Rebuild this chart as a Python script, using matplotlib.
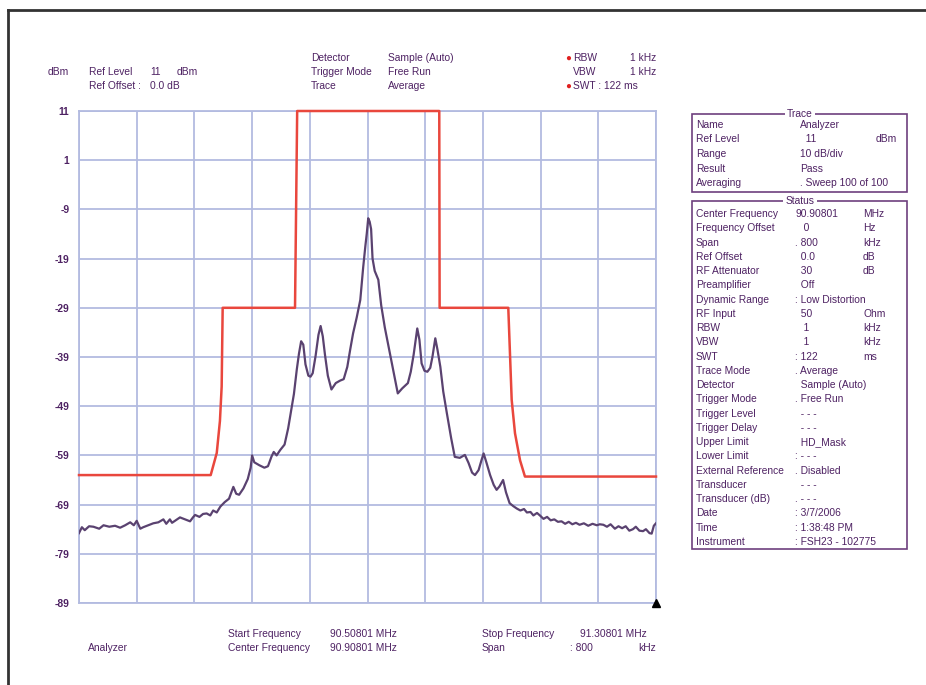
import matplotlib
matplotlib.use("Agg")
from matplotlib import pyplot as plt
from matplotlib.lines import Line2D
from matplotlib.patches import Rectangle

plt.rcParams['font.family'] = ['Liberation Sans', 'DejaVu Sans']

# ---- data (offset from centre frequency, kHz / dBm) ----
trace_khz = [-400, -396, -392, -386, -380, -372, -366, -358, -350, -343,
             -336, -329, -324, -320, -315, -311, -304, -297, -290, -283,
             -279, -274, -271, -265, -260, -253, -246, -242, -239, -233,
             -228, -223, -218, -214, -209, -204, -198, -192, -186, -182,
             -178, -172, -166, -162, -160, -157, -150, -143, -138, -133,
             -130, -126, -121, -115, -110, -106, -102, -98, -95, -92,
             -89, -86, -82, -79, -76, -72, -68, -65, -62, -59,
             -55, -50, -44, -38, -33, -28, -24, -20, -15, -10,
             -6, -3, -1, 1, 3, 5, 7, 10, 15, 19,
             24, 31, 36, 42, 48, 56, 60, 64, 69, 72,
             75, 79, 83, 87, 90, 94, 97, 101, 105, 110,
             116, 121, 128, 135, 140, 145, 149, 154, 158, 161,
             165, 170, 175, 179, 183, 188, 192, 197, 202, 207,
             212, 217, 221, 226, 230, 235, 239, 244, 249, 254,
             259, 264, 269, 274, 279, 284, 289, 294, 300, 306,
             312, 318, 322, 327, 332, 337, 343, 348, 353, 358,
             363, 368, 372, 377, 382, 386, 391, 394, 397, 400]
trace_dbm = [-74.8, -73.6, -74.2, -73.4, -73.5, -73.9, -73.2, -73.5, -73.3, -73.7,
             -73.2, -72.6, -73.2, -72.3, -73.9, -73.6, -73.2, -72.8, -72.6, -72.0,
             -72.9, -72.0, -72.7, -72.1, -71.6, -72.0, -72.4, -71.6, -71.1, -71.5,
             -70.9, -70.8, -71.2, -70.2, -70.6, -69.4, -68.5, -67.8, -65.4, -66.8,
             -67.0, -65.7, -63.8, -61.5, -59.0, -60.4, -61.0, -61.5, -61.2, -59.2,
             -58.3, -59.0, -57.9, -56.8, -53.5, -50.0, -46.5, -41.5, -38.3, -35.8,
             -36.5, -40.5, -42.8, -43.0, -42.3, -38.8, -34.5, -32.7, -34.8, -38.5,
             -42.8, -45.6, -44.3, -43.8, -43.5, -41.0, -37.5, -34.2, -31.0, -27.4,
             -20.8, -16.5, -13.9, -10.8, -11.5, -13.0, -19.0, -21.5, -23.3, -28.5,
             -33.0, -38.2, -42.0, -46.4, -45.4, -44.3, -42.0, -38.5, -33.2, -35.5,
             -40.3, -41.8, -42.0, -41.2, -39.0, -35.2, -37.5, -41.0, -46.0, -50.4,
             -55.5, -59.3, -59.5, -58.9, -60.5, -62.5, -63.0, -62.0, -60.0, -58.6,
             -60.5, -63.0, -65.0, -66.0, -65.3, -64.0, -66.5, -68.7, -69.3, -69.8,
             -70.2, -69.9, -70.6, -70.5, -71.2, -70.7, -71.2, -71.9, -71.5, -72.2,
             -72.0, -72.5, -72.4, -72.9, -72.5, -73.0, -72.7, -73.1, -72.8, -73.3,
             -72.9, -73.2, -73.0, -73.1, -73.5, -73.0, -73.9, -73.4, -73.8, -73.4,
             -74.3, -74.0, -73.5, -74.3, -74.4, -74.0, -74.8, -74.9, -73.3, -72.8]

mask_khz = [-400, -217.4, -209, -204.6, -202.2, -200.8, -100.5, -97.5,
            99.5, 100, 195.2, 199.9, 204.5, 211.5, 218.3, 400]
mask_dbm = [-63, -63, -58.5, -52, -45, -29, -29, 11,
            11, -29, -29, -47.7, -54.5, -60, -63.3, -63.3]

ytick_vals = [11, 1, -9, -19, -29, -39, -49, -59, -69, -79, -89]

trace_rows = [("Name", "Analyzer", ""), ("Ref Level", "  11", "dBm"),
              ("Range", "10 dB/div", ""), ("Result", "Pass", ""),
              ("Averaging", ". Sweep 100 of 100", "")]
status_rows = [("Center Frequency", "90.90801", "MHz"),
               ("Frequency Offset", "   0", "Hz"),
               ("Span", ". 800", "kHz"),
               ("Ref Offset", "  0.0", "dB"),
               ("RF Attenuator", "  30", "dB"),
               ("Preamplifier", "  Off", ""),
               ("Dynamic Range", ": Low Distortion", ""),
               ("RF Input", "  50", "Ohm"),
               ("RBW", "   1", "kHz"),
               ("VBW", "   1", "kHz"),
               ("SWT", ": 122", "ms"),
               ("Trace Mode", ". Average", ""),
               ("Detector", "  Sample (Auto)", ""),
               ("Trigger Mode", ". Free Run", ""),
               ("Trigger Level", "  - - -", ""),
               ("Trigger Delay", "  - - -", ""),
               ("Upper Limit", "  HD_Mask", ""),
               ("Lower Limit", ": - - -", ""),
               ("External Reference", ". Disabled", ""),
               ("Transducer", "  - - -", ""),
               ("Transducer (dB)", ". - - -", ""),
               ("Date", ": 3/7/2006", ""),
               ("Time", ": 1:38:48 PM", ""),
               ("Instrument", ": FSH23 - 102775", "")]

W, H = 926, 685
TXT = '#4e2263'
FS = 7.4

fig = plt.figure(figsize=(W / 100, H / 100), dpi=100)


def fx(x):
    return x / W


def fy(y):
    return 1 - y / H


def put(x, y, s, **kw):
    kw.setdefault('fontsize', FS)
    kw.setdefault('color', TXT)
    fig.text(fx(x), fy(y), s, va='center', **kw)


# outer frame
fig.add_artist(Line2D([fx(8), 1], [fy(10), fy(10)], color='#333333', lw=2))
fig.add_artist(Line2D([fx(8), fx(8)], [fy(10), 0], color='#333333', lw=2))

# ---- spectrum plot ----
ax = fig.add_axes([fx(79), fy(603), fx(656) - fx(79), fy(111) - fy(603)])
grid_c = '#b3bbe0'
for k in range(-400, 401, 80):
    ax.axvline(k, color=grid_c, lw=1.3, zorder=1)
for v in ytick_vals:
    ax.axhline(v, color=grid_c, lw=1.3, zorder=1)
ax.plot(mask_khz, mask_dbm, color='#e9473d', lw=1.8, zorder=3, clip_on=False)
ax.plot(trace_khz, trace_dbm, color='#5a4270', lw=1.6, zorder=4)
ax.plot([400], [-89], marker='^', color='black', markersize=6,
        clip_on=False, zorder=5)
ax.set_xlim(-400, 400)
ax.set_ylim(-89, 11)
ax.set_xticks([])
ax.set_yticks(ytick_vals)
ax.set_yticklabels([str(v) for v in ytick_vals], fontsize=FS,
                   color=TXT, fontweight='bold')
ax.tick_params(axis='y', length=0, pad=7)
for sp in ax.spines.values():
    sp.set_color(grid_c)
    sp.set_linewidth(1.3)

# ---- header ----
put(48, 72, "dBm")
put(89, 72, "Ref Level")
put(150, 72, "11")
put(177, 72, "dBm")
put(89, 86, "Ref Offset :")
put(150, 86, "0.0 dB")
put(311, 58, "Detector")
put(311, 72, "Trigger Mode")
put(311, 86, "Trace")
put(388, 58, "Sample (Auto)")
put(388, 72, "Free Run")
put(388, 86, "Average")
put(565, 58, "\u25cf", color='#e02020', fontsize=7)
put(565, 86, "\u25cf", color='#e02020', fontsize=7)
put(573, 58, "RBW")
put(573, 72, "VBW")
put(573, 86, "SWT : 122 ms")
put(656, 58, "1 kHz", ha='right')
put(656, 72, "1 kHz", ha='right')

# ---- footer ----
put(88, 648, "Analyzer")
put(228, 634, "Start Frequency")
put(228, 648, "Center Frequency")
put(330, 634, "90.50801 MHz")
put(330, 648, "90.90801 MHz")
put(482, 634, "Stop Frequency")
put(482, 648, "Span")
put(580, 634, "91.30801 MHz")
put(570, 648, ": 800")
put(638, 648, "kHz")

# ---- right info panel ----
box_c = '#6e3f7e'
fig.add_artist(Rectangle((fx(692), fy(192)), fx(907) - fx(692), fy(114) - fy(192),
                         fill=False, ec=box_c, lw=1.2))
fig.add_artist(Rectangle((fx(692), fy(549)), fx(907) - fx(692), fy(201) - fy(549),
                         fill=False, ec=box_c, lw=1.2))
bb = dict(facecolor='white', edgecolor='none', pad=1.5)
put(800, 114, "Trace", ha='center', bbox=bb)
put(800, 201, "Status", ha='center', bbox=bb)

for i, (lab, val, unit) in enumerate(trace_rows):
    y = 125 + i * 14.5
    put(696, y, lab)
    put(800, y, val)
    if unit:
        put(876, y, unit)

for i, (lab, val, unit) in enumerate(status_rows):
    y = 214 + i * 14.26
    put(696, y, lab)
    put(795, y, val)
    if unit:
        put(863, y, unit)

fig.savefig('out.png', dpi=100)
